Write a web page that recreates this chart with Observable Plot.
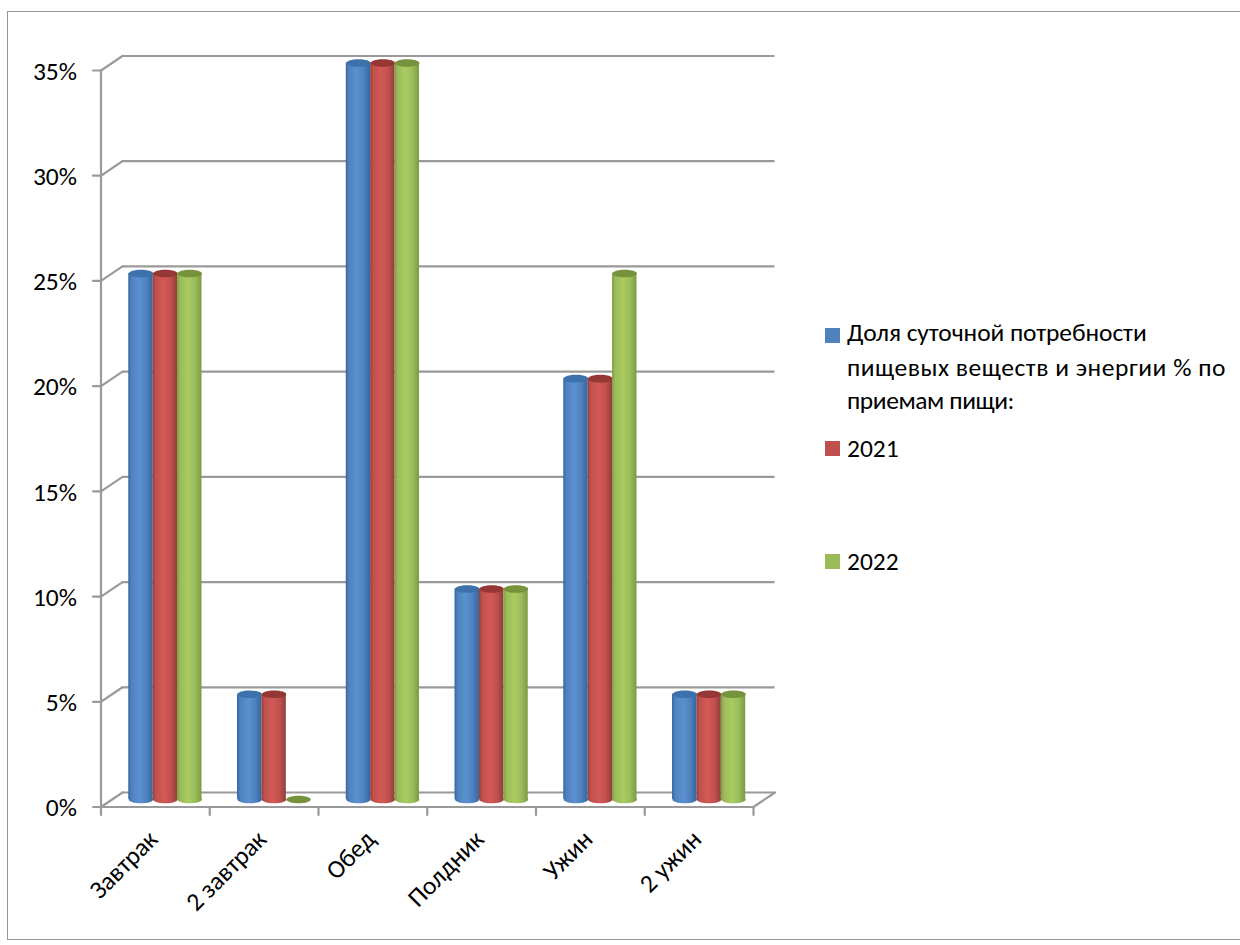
<!DOCTYPE html>
<html><head><meta charset="utf-8">
<script src="https://cdn.jsdelivr.net/npm/d3@7"></script>
<script src="https://cdn.jsdelivr.net/npm/@observablehq/plot@0.6"></script>
<style>
html,body{margin:0;padding:0;background:#fff;overflow:hidden}
#wrap{position:relative;width:1240px;height:945px;font-family:Carlito,Calibri,Lato,"Open Sans",sans-serif;color:#000}
#border{position:absolute;left:7px;top:11px;width:1240px;height:929px;border:1.5px solid #969696;box-sizing:border-box}
.sw{position:absolute;left:825px;width:15px;height:15px}
.lt{position:absolute;left:847px;font-size:25.5px;line-height:34px;white-space:nowrap}
svg{position:absolute;left:0;top:0}
</style></head>
<body><div id="wrap"><div id="border"></div></div>
<script>
const categories = ["Завтрак","2 завтрак","Обед","Полдник","Ужин","2 ужин"];
const values2020 = [25,5,35,10,20,5];
const values2021 = [25,5,35,10,20,5];
const values2022 = [25,0,35,10,25,5];
const yTicks = [0,5,10,15,20,25,30,35];
const seriesColors = ["#4f81bd","#c0504d","#9bbb59"];
const seriesDark = ["#3c71ab","#953735","#76923c"];
const seriesLight = ["#5b91d1","#d15a56","#a9cc62"];
const seriesEdge = ["#33669f","#8f3e3b","#7a9a42"];
const seriesValues = [values2020,values2021,values2022];

const grey = "#9a9a9a";
const depthX = 21.5, depthY = 14.5;
const barW = 24.4;
const barDx = i => 10 + (i-1)*barW;
const barDy = -7.5;

const lineShape = {draw(c,l){c.moveTo(0,0);c.lineTo(0,-l);}};
const capShape = (rx,ry) => ({draw(c){
  const k=0.5523;
  c.moveTo(-rx,0);
  c.bezierCurveTo(-rx,-ry*k,-rx*k,-ry,0,-ry);
  c.bezierCurveTo(rx*k,-ry,rx,-ry*k,rx,0);
  c.bezierCurveTo(rx,ry*k,rx*k,ry,0,ry);
  c.bezierCurveTo(-rx*k,ry,-rx,ry*k,-rx,0);
  c.closePath();
}});
const cap = capShape(barW/2,3.8);

const defs = () => {
  const s = d3.create("svg:defs");
  seriesColors.forEach((col,i)=>{
    const g = s.append("linearGradient").attr("id","cyl"+i).attr("x1",0).attr("x2",1).attr("y1",0).attr("y2",0);
    [[0,seriesEdge[i]],[0.12,seriesColors[i]],[0.45,seriesLight[i]],[0.75,seriesColors[i]],[1,seriesEdge[i]]]
      .forEach(([o,c])=>g.append("stop").attr("offset",o).attr("stop-color",c));
  });
  return s.node();
};

const rows = i => categories.map((c,j)=>({category:c,value:seriesValues[i][j]}));
const bands = [0,1,2];
const step = 652.5/6;
const inset = (step-barW)/2;

const plot = Plot.plot({
  width:1240,height:945,
  marginLeft:100.5,marginRight:1240-753,marginTop:70,marginBottom:945-806.5,
  style:{background:"transparent",fontFamily:"Carlito,Calibri,Lato,'Open Sans',sans-serif",fontSize:"25.5px",color:"#000"},
  x:{type:"band",domain:categories,padding:0,round:false,label:null},
  y:{domain:[0,35],label:null},
  marks:[
    defs,
    Plot.ruleY(yTicks,{dx:depthX,dy:-depthY,stroke:grey,strokeWidth:2.2}),
    Plot.vector(yTicks,{y:d=>d,frameAnchor:"left",rotate:56,length:Math.hypot(depthX,depthY),anchor:"start",shape:lineShape,stroke:grey,strokeWidth:2.2}),
    Plot.vector(yTicks,{y:d=>d,frameAnchor:"left",rotate:270,length:8,anchor:"start",shape:lineShape,stroke:grey,strokeWidth:2.2}),
    Plot.vector([0],{y:d=>d,frameAnchor:"right",rotate:56,length:Math.hypot(depthX,depthY),anchor:"start",shape:lineShape,stroke:grey,strokeWidth:2.2}),
    Plot.ruleX(categories.slice(0,1),{x:d=>d,y1:0,y2:35,dx:-step/2,stroke:grey,strokeWidth:2.2}),
    Plot.ruleY([0],{stroke:grey,strokeWidth:2.2}),
    Plot.vector(categories,{x:d=>d,y:()=>0,dx:-step/2,rotate:180,length:8,anchor:"start",shape:lineShape,stroke:grey,strokeWidth:2.2}),
    Plot.vector(categories.slice(-1),{x:d=>d,y:()=>0,dx:step/2,rotate:180,length:8,anchor:"start",shape:lineShape,stroke:grey,strokeWidth:2.2}),
    ...bands.flatMap(i=>[
      Plot.dot(rows(i).filter(d=>d.value>0),{x:"category",y:()=>0,dx:barDx(i),dy:barDy,symbol:cap,fill:`url(#cyl${i})`,stroke:"none"}),
      Plot.barY(rows(i),{x:"category",y:"value",dx:barDx(i),dy:barDy,insetLeft:inset,insetRight:inset,fill:`url(#cyl${i})`}),
      Plot.dot(rows(i),{x:"category",y:"value",dx:barDx(i),dy:barDy,symbol:cap,fill:seriesDark[i],stroke:"none"}),
    ]),
    Plot.axisY(yTicks,{tickSize:0,tickPadding:24,tickFormat:d=>d+"%",fontSize:25.5,dy:1,label:null}),
    Plot.axisX({tickSize:0,tickRotate:-45,tickPadding:16,fontSize:25.5,textAnchor:"end",dx:-2,dy:12,label:null}),
  ]
});
document.getElementById("wrap").appendChild(plot);

const legendTop = [328,441,554];
const legendLines = [["Доля суточной потребности","пищевых веществ и энергии % по","приемам пищи:"],["2021"],["2022"]];
const lineY = [[333,368,401],[449],[562]];
const lineSpacing = [[-0.08,0.53,-0.4],[0],[0]];
const wrap = document.getElementById("wrap");
legendTop.forEach((t,i)=>{
  const s=document.createElement("div");s.className="sw";s.style.top=t+"px";s.style.background=seriesColors[i];wrap.appendChild(s);
  legendLines[i].forEach((l,j)=>{
    const e=document.createElement("div");e.className="lt";e.textContent=l;e.style.top=(lineY[i][j]-17)+"px";e.style.letterSpacing=lineSpacing[i][j]+"px";wrap.appendChild(e);
  });
});
</script></body></html>
